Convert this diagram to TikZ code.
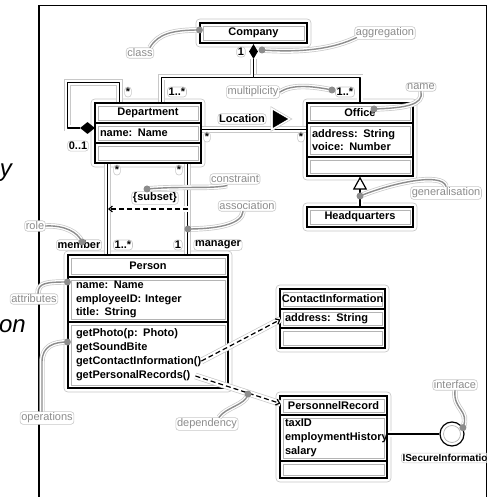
\documentclass[tikz,border=0pt]{standalone}
\usepackage{fontspec}
\setmainfont{Liberation Sans}
\usetikzlibrary{calc,backgrounds,arrows.meta,shapes.geometric}
\definecolor{haloc}{RGB}{200,200,200}
\definecolor{notec}{RGB}{140,140,140}
\definecolor{innerc}{RGB}{180,180,180}
\tikzset{
  every node/.style={font=\fontsize{11}{13}\selectfont\bfseries},
  comp/.style={draw=black, line width=1.1pt, inner sep=0pt, minimum height=20pt,
    path picture={\draw[innerc,line width=0.6pt]
      ([xshift=3pt,yshift=-3pt]path picture bounding box.north west) rectangle
      ([xshift=-3pt,yshift=3pt]path picture bounding box.south east);}},
  lcomp/.style={comp, text width=#1, align=left},
  boxhalo/.style={draw=haloc, fill=white, line width=0.7pt, rounded corners=4pt},
  assoc/.style={line width=1.2pt, line join=round,
    preaction={draw=haloc, line width=6.6pt, solid, arrows=-},
    preaction={draw=white, line width=5.2pt, solid, arrows=-}},
  depend/.style={assoc, dash pattern=on 5pt off 3pt, -{Straight Barb[length=3.5pt,width=6pt]}},
  mult/.style={fill=white, draw=haloc, line width=0.6pt, rounded corners=3pt, inner sep=1.2pt},
  note/.style={mult, text=notec, font=\fontsize{11}{13}\selectfont},
  notecurve/.style={notec, line width=1.4pt, line cap=round,
    preaction={draw=haloc, line width=5.4pt},
    preaction={draw=white, line width=4pt}},
  notedot/.style={circle, fill=notec, inner sep=0pt, minimum size=7pt},
  bigital/.style={font=\fontsize{24}{24}\selectfont\itshape, inner sep=0pt}
}
\begin{document}
\begin{tikzpicture}[x=1pt,y=-1pt]
\useasboundingbox (0,0) rectangle (498,497);

% fragments of the page text beside the figure
\node[bigital, anchor=base east] (fy) at (12,177) {y};
\node[bigital, anchor=base east] (fon) at (26,332) {on};

% frame
\draw[line width=1.2pt] (39,497) -- (39,5.5) -- (486.5,5.5) -- (486.5,497);

\begin{scope}
\clip (0,0) rectangle (486.5,497);

% ---------------- classes ----------------
\node[comp, minimum width=107pt] (co) at (253.5,33) {Company};

\node[comp, minimum width=106pt] (dn) at (148,113) {Department};
\node[lcomp=96pt, minimum width=106pt] (da) at (148,133) {name: Name};
\node[comp, minimum width=106pt] (do) at (148,153) {};

\node[comp, minimum width=106pt] (on) at (360,113) {Office};
\node[lcomp=96pt, minimum width=106pt, minimum height=34pt] (oa) at (360,140) {address: String\\voice: Number};
\node[comp, minimum width=106pt, minimum height=19pt] (oo) at (360,166.5) {};

\node[comp, minimum width=106pt] (hq) at (360,217) {Headquarters};

\node[comp, minimum width=160pt, minimum height=22pt] (pn) at (148,266) {Person};
\node[lcomp=144pt, minimum width=160pt, minimum height=45pt,
      font=\fontsize{11}{13.5}\selectfont\bfseries] (pa) at (148,299.5)
      {name: Name\\employeeID: Integer\\title: String};
\node[lcomp=144pt, minimum width=160pt, minimum height=66pt,
      font=\fontsize{11}{14}\selectfont\bfseries] (po) at (148,355)
      {getPhoto(p: Photo)\\getSoundBite\\getContactInformation()\\getPersonalRecords()};

\node[comp, minimum width=105pt] (cn) at (332.5,299) {ContactInformation};
\node[lcomp=95pt, minimum width=105pt, minimum height=19pt] (ca) at (332.5,318.5) {address: String};
\node[comp, minimum width=105pt] (cop) at (332.5,338) {};

\node[comp, minimum width=107pt, minimum height=19pt] (rn) at (333.5,405.5) {PersonnelRecord};
\node[lcomp=97pt, minimum width=107pt, minimum height=46pt,
      font=\fontsize{11}{14}\selectfont\bfseries] (ra) at (333.5,438)
      {taxID\\employmentHistory\\salary};
\node[comp, minimum width=107pt, minimum height=17pt] (ro) at (333.5,469.5) {};

% interface lollipop
\node[circle, draw, line width=1.2pt, minimum size=24pt, inner sep=0pt, fill=white,
      path picture={\draw[innerc,line width=0.7pt] (path picture bounding box.center) circle (8.5pt);}]
      (iface) at (452,434) {};

% aggregation diamonds
\node[diamond, fill=black, inner sep=0pt, minimum width=9pt, minimum height=15pt] (agg) at (253.5,51.5) {};
\node[diamond, fill=black, inner sep=0pt, minimum width=15pt, minimum height=12pt] (sagg) at (87.5,128) {};

% ---------------- halos and connectors ----------------
\begin{scope}[on background layer]
  \draw[boxhalo] ($(co.north west)+(-3.5,-3.5)$) rectangle ($(co.south east)+(3.5,3.5)$);
  \draw[boxhalo] ($(dn.north west)+(-3.5,-3.5)$) rectangle ($(do.south east)+(3.5,3.5)$);
  \draw[boxhalo] ($(on.north west)+(-3.5,-3.5)$) rectangle ($(oo.south east)+(3.5,3.5)$);
  \draw[boxhalo] ($(hq.north west)+(-3.5,-3.5)$) rectangle ($(hq.south east)+(3.5,3.5)$);
  \draw[boxhalo] ($(pn.north west)+(-3.5,-3.5)$) rectangle ($(po.south east)+(3.5,3.5)$);
  \draw[boxhalo] ($(cn.north west)+(-3.5,-3.5)$) rectangle ($(cop.south east)+(3.5,3.5)$);
  \draw[boxhalo] ($(rn.north west)+(-3.5,-3.5)$) rectangle ($(ro.south east)+(3.5,3.5)$);

  % Company aggregates departments and offices
  \coordinate (aj) at ($(agg.south)+(0,18)$);
  \coordinate (dtop) at ($(dn.north west)+(67,0)$);
  \coordinate (otop) at (on.north);
  \draw[assoc] (agg.south) -- (aj) -| (dtop);
  \draw[assoc] (aj) -| (otop);

  % Department sub-departments
  \coordinate (stop) at ($(dn.north west)+(25,0)$);
  \draw[assoc] (stop) -- ++(0,-20) -- ++(-52,0) |- (sagg.west);

  % Location association
  \draw[assoc] ($(dn.south east)+(0,6)$) -- ($(on.south west)+(0,6)$);

  % generalisation
  \draw[assoc, -{Triangle[open, length=13pt, width=14pt]}] (hq.north) -- (oo.south);

  % member / manager associations
  \draw[assoc] ($(do.south west)+(13,0)$) -- ($(pn.north west)+(40,0)$);
  \draw[assoc] ($(do.south west)+(93,0)$) -- ($(pn.north west)+(120,0)$);

  % interface realisation
  \draw[assoc] (iface.west) -- (iface.west -| ra.east);
\end{scope}

% Location triangle
\draw[fill=black, line width=0.5pt, line join=round,
      preaction={draw=haloc, line width=5pt}, preaction={draw=white, line width=3.6pt}]
      (273,110.5) -- (287.5,119) -- (273,127.5) -- cycle;

% subset constraint between the two associations
\draw[depend] (188,209) -- (108,209);

% dependencies from operations
\coordinate (gci) at ($(po.west)+(134,6)$);
\coordinate (gpr) at ($(po.west)+(128,21)$);
\draw[depend] (gci) -- ($(ca.west)+(1,1)$);
\draw[depend] (gpr) -- ($(rn.west)+(1,-2)$);

% ---------------- labels ----------------
\node[mult] (m1) at (128,92) {*};
\node[mult] (m2) at (177,92) {1..*};
\node[mult] (m3) at (241,52) {1};
\node[mult] (m4) at (345,92) {1..*};
\node[mult] (m5) at (78,146) {0..1};
\node[mult] (m6) at (207,137) {*};
\node[mult] (m7) at (301,137) {*};
\node[mult] (m8) at (117,170) {*};
\node[mult] (m9) at (179,170) {*};
\node[mult] (m10) at (123,245) {1..*};
\node[mult] (m11) at (178,245) {1};
\node[mult] (member) at (79,245) {member};
\node[mult] (manager) at (218,245) {manager};
\node[mult] (subset) at (155,198) {\{subset\}};
\node[mult] (loc) at (242,119) {Location};
\node[mult, anchor=west, font=\fontsize{10}{12}\selectfont\bfseries] (iname) at (401,458) {ISecureInformation};

% ---------------- annotations ----------------
\node[note] (nclass) at (140,53) {class};
\node[note] (nagg) at (385,33) {aggregation};
\node[note] (nmult) at (253,92) {multiplicity};
\node[note] (nname) at (421,87) {name};
\node[note] (ngen) at (446,193) {generalisation};
\node[note] (ncons) at (235,179) {constraint};
\node[note] (nassoc) at (247,206) {association};
\node[note] (nrole) at (35,226) {role};
\node[note] (nattr) at (34,299) {attributes};
\node[note] (nops) at (47,418) {operations};
\node[note] (ndep) at (207,424) {dependency};
\node[note] (nint) at (455,385) {interface};

\coordinate (dclass) at (co.west |- 0,30);
\coordinate (dagg) at (262,50);
\coordinate (dmult) at (332,90);
\coordinate (dname) at (374,109);
\coordinate (dgen) at (360,196);
\coordinate (dcons) at (147,189);
\coordinate (dassoc) at (188,229);
\coordinate (drole) at (82,242);
\coordinate (dattr) at (pa.west |- 0,282);
\coordinate (dops) at (po.west |- 0,342);
\coordinate (ddep) at (248,394);
\coordinate (dint) at (iface.30);

\draw[notecurve] ($(nclass.north)+(10,0)$) .. controls (158,34) and (172,30) .. (dclass);
\draw[notecurve] (dagg) .. controls (305,53) and (335,48) .. ($(nagg.south west)+(2,-2)$);
\draw[notecurve] (nmult.east) .. controls (292,84) and (312,86) .. (dmult);
\draw[notecurve] (dname) .. controls (405,108) and (424,105) .. (nname.south);
\draw[notecurve] (dgen) .. controls (392,183) and (442,172) .. (ngen.north);
\draw[notecurve] (dcons) .. controls (180,186) and (212,189) .. ($(ncons.south)+(-8,1)$);
\draw[notecurve] (dassoc) .. controls (218,229) and (242,224) .. ($(nassoc.south)+(-4,0)$);
\draw[notecurve] (nrole.east) .. controls (64,225) and (78,232) .. (drole);
\draw[notecurve] ($(nattr.north)+(4,0)$) .. controls (38,283) and (46,282) .. (dattr);
\draw[notecurve] ($(nops.north)+(-5,0)$) -- (42,362) .. controls (42,346) and (54,342) .. (dops);
\draw[notecurve] ($(ndep.north)+(12,0)$) .. controls (226,407) and (246,405) .. (ddep);
\draw[notecurve] (nint.south) .. controls (453,410) and (470,410) .. (dint);

\foreach \d in {dclass,dagg,dmult,dname,dgen,dcons,dassoc,drole,dattr,dops,ddep,dint}
  \node[notedot] at (\d) {};
\end{scope}
\end{tikzpicture}
\end{document}
